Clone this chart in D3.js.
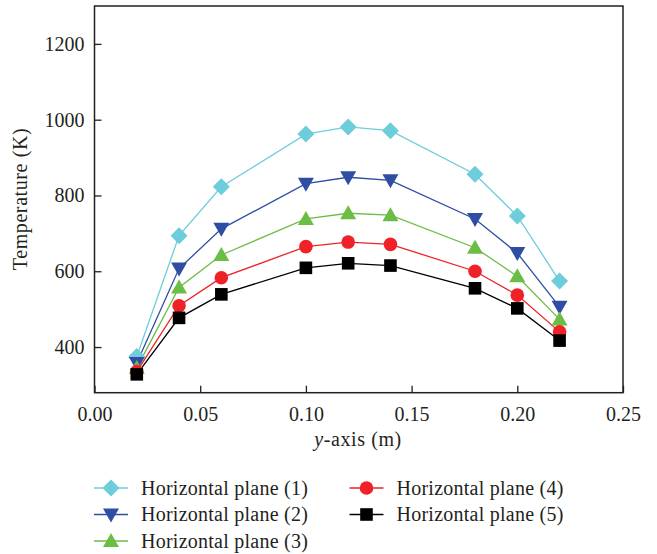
<!DOCTYPE html>
<html><head><meta charset="utf-8">
<script src="https://cdn.jsdelivr.net/npm/d3@7"></script>
<style>body{margin:0;background:#fff}svg{display:block}text{font-family:"Liberation Serif","Times New Roman",serif;fill:#231f20}</style>
</head><body><svg id="c" width="657" height="554"></svg>
<script>
const xValues = [0.02, 0.04, 0.06, 0.10, 0.12, 0.14, 0.18, 0.20, 0.22];
const plane1 = [375, 694, 823, 962, 981, 971, 856, 746, 574];
const plane2 = [358, 607, 712, 831, 848, 840, 738, 648, 506];
const plane3 = [345, 557, 643, 738, 753, 748, 662, 587, 473];
const plane4 = [335, 509, 583, 665, 677, 671, 600, 537, 440];
const plane5 = [328, 477, 539, 609, 621, 615, 555, 502, 417];
const seriesNames = ["Horizontal plane (1)", "Horizontal plane (2)", "Horizontal plane (3)", "Horizontal plane (4)", "Horizontal plane (5)"];
const xTicks = [0.00, 0.05, 0.10, 0.15, 0.20, 0.25];
const yTicks = [400, 600, 800, 1000, 1200];

const colors = ["#6ecdda", "#2e4da3", "#6cbd45", "#ee2227", "#000000"];
const shapes = ["diamond", "down", "up", "circle", "square"];
const allSeries = [plane1, plane2, plane3, plane4, plane5];

const svg = d3.select("#c");
const L = 94.5, R = 623, T = 6, B = 392.7;
const x = d3.scaleLinear().domain([0, 0.25]).range([L, R]);
const y = d3.scaleLinear().domain([279.5, 1300]).range([B, T]);

function sym(g, shape, color, cx, cy) {
  if (shape === "diamond") g.append("path").attr("d", `M${cx},${cy-8.5}L${cx+8.5},${cy}L${cx},${cy+8.5}L${cx-8.5},${cy}Z`).attr("fill", color);
  else if (shape === "down") g.append("path").attr("d", `M${cx-8},${cy-6}L${cx+8},${cy-6}L${cx},${cy+8}Z`).attr("fill", color);
  else if (shape === "up") g.append("path").attr("d", `M${cx},${cy-8}L${cx+8},${cy+6}L${cx-8},${cy+6}Z`).attr("fill", color);
  else if (shape === "circle") g.append("circle").attr("cx", cx).attr("cy", cy).attr("r", 6.8).attr("fill", color);
  else g.append("rect").attr("x", cx-6.3).attr("y", cy-6.3).attr("width", 12.6).attr("height", 12.6).attr("fill", color);
}

// axes
const xAxis = d3.axisBottom(x).tickValues(xTicks).tickFormat(d3.format(".2f")).tickSizeInner(-7).tickSizeOuter(0).tickPadding(14);
const yAxis = d3.axisLeft(y).tickValues(yTicks).tickFormat(d3.format("d")).tickSizeInner(-7).tickSizeOuter(0).tickPadding(10);
const gx = svg.append("g").attr("transform", `translate(0,${B})`).call(xAxis);
const gy = svg.append("g").attr("transform", `translate(${L},0)`).call(yAxis);
[gx, gy].forEach(g => {
  g.select(".domain").remove();
  g.selectAll(".tick line").attr("stroke", "#231f20").attr("stroke-width", 1.3);
  g.selectAll(".tick text").attr("font-size", 20).attr("font-family", "Liberation Serif").attr("fill", "#231f20");
});
svg.append("rect").attr("x", L).attr("y", T).attr("width", R-L).attr("height", B-T)
  .attr("fill", "none").attr("stroke", "#231f20").attr("stroke-width", 1.5);

// series lines + markers
const line = d3.line().x((d, i) => x(xValues[i])).y(d => y(d));
allSeries.forEach((s, k) => {
  svg.append("path").datum(s).attr("d", line).attr("fill", "none").attr("stroke", colors[k]).attr("stroke-width", 1.3);
});
allSeries.forEach((s, k) => {
  const g = svg.append("g");
  s.forEach((v, i) => sym(g, shapes[k], colors[k], x(xValues[i]), y(v)));
});

// axis titles
svg.append("text").attr("transform", "translate(27,199) rotate(-90)").attr("text-anchor", "middle")
  .attr("font-size", 20).attr("letter-spacing", 0.6).text("Temperature (K)");
const xt = svg.append("text").attr("x", 358).attr("y", 446).attr("text-anchor", "middle").attr("font-size", 20).attr("letter-spacing", 0.6);
xt.append("tspan").attr("font-style", "italic").text("y");
xt.append("tspan").text("-axis (m)");

// legend
const legPos = [[111, 488], [111, 514.5], [111, 541], [366.5, 488], [366.5, 514.5]];
seriesNames.forEach((n, k) => {
  const [cx, cy] = legPos[k];
  const g = svg.append("g");
  g.append("line").attr("x1", cx-17).attr("x2", cx+17).attr("y1", cy).attr("y2", cy).attr("stroke", colors[k]).attr("stroke-width", 1.3);
  sym(g, shapes[k], colors[k], cx, cy);
  g.append("text").attr("x", cx + 30).attr("y", cy + 6.5).attr("font-size", 20).attr("letter-spacing", 0.25).text(n);
});
</script></body></html>
